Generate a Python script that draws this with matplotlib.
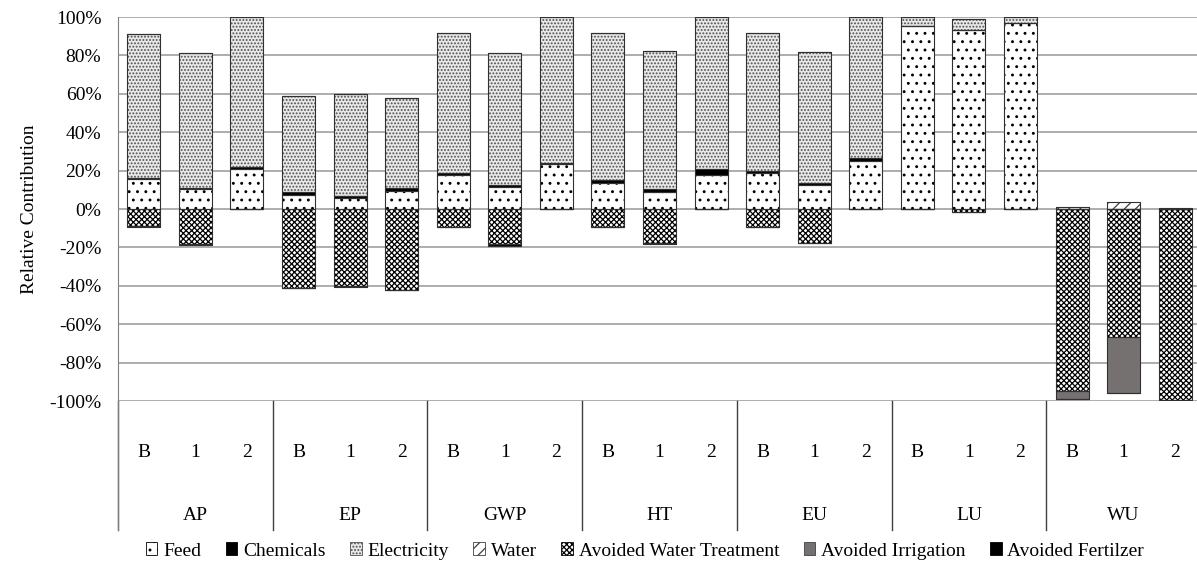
import matplotlib.pyplot as plt
import numpy as np

plt.rcParams['font.family'] = ['Liberation Serif', 'DejaVu Serif']
plt.rcParams['hatch.linewidth'] = 0.9

categories = ['AP', 'EP', 'GWP', 'HT', 'EU', 'LU', 'WU']
scenarios = ['B', '1', '2']

# relative contribution in %, one value per bar (B, 1, 2 for each category)
feed = [15.5, 10.3, 21.0, 7.5, 5.5, 9.5, 17.5, 11.5, 23.3,
        13.5, 9.0, 17.7, 19.0, 12.5, 25.2, 95.3, 93.2, 96.7, 0, 0, 0]
chemicals = [0.7, 0.6, 0.7, 1.5, 1.1, 1.3, 1.0, 0.8, 0.9,
             1.5, 1.5, 3.0, 0.9, 1.2, 1.6, 0, 0, 0, 0, 0, 0]
electricity = [74.8, 70.1, 78.3, 50.0, 53.4, 46.8, 73.0, 68.7, 75.8,
               76.5, 71.8, 79.3, 71.6, 68.3, 73.2, 4.7, 5.6, 3.3, 0, 0, 0]
water = [0, 0, 0, 0, 0, 0, 0, 0, 0,
         0, 0, 0, 0, 0, 0, 0, 0, 0, 1.0, 3.8, 0.4]
avoided_water_treatment = [-9.0, -18.0, 0, -41.0, -40.3, -42.0, -9.2, -18.3, 0,
                           -9.2, -17.5, 0, -9.2, -17.8, 0, -0.2, -1.4, 0,
                           -95.0, -66.8, -99.5]
avoided_irrigation = [0, 0, 0, 0, 0, 0, 0, 0, 0,
                      0, 0, 0, 0, 0, 0, 0, 0, 0, -4.0, -29.2, 0]
avoided_fertilizer = [-0.6, -1.0, 0, -0.3, -0.3, -0.3, 0, -0.8, 0,
                      0, -0.5, 0, 0, 0, 0, 0, 0, 0, 0, 0, 0]

positive = [
    ('Feed', feed, 'white', 'black', '..'),
    ('Chemicals', chemicals, 'black', 'black', None),
    ('Electricity', electricity, '#e8e8e8', '#505050', '.....'),
    ('Water', water, 'white', '#404040', '///'),
]
negative = [
    ('Avoided Water Treatment', avoided_water_treatment, 'white', 'black', 'xxxxxx'),
    ('Avoided Irrigation', avoided_irrigation, '#767171', '#404040', None),
    ('Avoided Fertilzer', avoided_fertilizer, 'black', 'black', None),
]

n = len(categories) * len(scenarios)
x = np.arange(n)
width = 0.64

fig = plt.figure(figsize=(11.97, 5.69), dpi=100)
ax = fig.add_axes([118 / 1197, 1 - 401 / 569, 1083 / 1197, 384 / 569])

handles = []
for stack in (positive, negative):
    bottom = np.zeros(n)
    for name, vals, fc, hc, hatch in stack:
        v = np.array(vals, dtype=float) / 100
        b = ax.bar(x, v, width, bottom=bottom, color=fc, edgecolor=hc,
                   hatch=hatch, linewidth=0.6, label=name, zorder=3)
        ax.bar(x, v, width, bottom=bottom, fill=False, edgecolor='#303030',
               linewidth=0.8, zorder=4)
        handles.append(b)
        bottom = bottom + v

ax.set_xlim(-0.5, n - 0.5)
ax.set_ylim(-1, 1)
ticks = np.arange(-1, 1.01, 0.2)
ax.set_yticks(ticks)
ax.set_yticklabels(['%d%%' % round(t * 100) for t in ticks], fontsize=14)
ax.yaxis.grid(True, color='#a0a0a0', linewidth=1.2, zorder=0)
ax.set_axisbelow(True)
ax.tick_params(axis='y', length=0, pad=12)
for s in ['top', 'right', 'bottom']:
    ax.spines[s].set_visible(False)
ax.spines['left'].set_color('#808080')
ax.spines['left'].set_bounds(-1.672, 1)
ax.spines['left'].set_clip_on(False)
ax.set_ylabel('Relative Contribution', fontsize=14, labelpad=8)

ax.set_xticks(x)
ax.set_xticklabels(scenarios * len(categories), fontsize=14)
ax.tick_params(axis='x', length=0, pad=31)

trans = ax.get_xaxis_transform()
for i, cat in enumerate(categories):
    ax.text(i * 3 + 1, -0.297, cat, transform=trans, ha='center', va='center',
            fontsize=14)
    ax.plot([i * 3 - 0.5, i * 3 - 0.5], [0, -0.336], transform=trans,
            color='#404040', linewidth=1, clip_on=False)

fig.legend(handles=handles, loc='center', bbox_to_anchor=(645 / 1197, 1 - 551 / 569),
           ncol=7, frameon=False, fontsize=14, handlelength=0.6,
           handleheight=0.6, handletextpad=0.3, columnspacing=1.25)

fig.savefig('out.png', dpi=100)
